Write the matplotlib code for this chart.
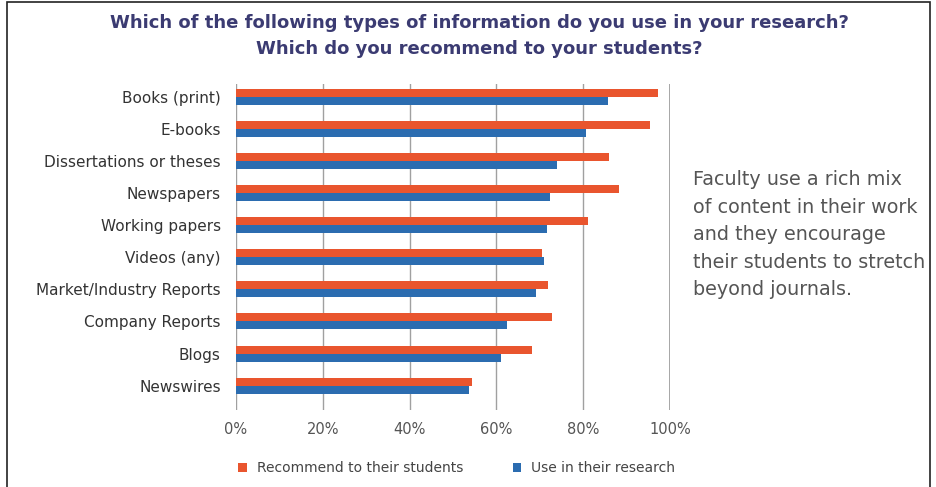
import matplotlib.pyplot as plt
import numpy as np
from matplotlib.patches import Rectangle

categories = ['Books (print)', 'E-books', 'Dissertations or theses', 'Newspapers',
              'Working papers', 'Videos (any)', 'Market/Industry Reports',
              'Company Reports', 'Blogs', 'Newswires']
recommend = [97.3, 95.5, 86.0, 88.2, 81.2, 70.4, 72.0, 72.9, 68.1, 54.4]
use_research = [85.8, 80.6, 74.0, 72.3, 71.7, 71.0, 69.1, 62.4, 61.0, 53.8]
ticks = [0, 20, 40, 60, 80, 100]
tick_labels = ['0%', '20%', '40%', '60%', '80%', '100%']

orange = '#e9552e'
blue = '#2b6cb0'
W, H = 937, 487

fig = plt.figure(figsize=(9.37, 4.87), dpi=100)
ax = fig.add_axes([236 / W, 1 - 410 / H, (670 - 236) / W, (410 - 84) / H])

y = np.arange(len(categories))
h = 0.25
ax.barh(y - h / 2, recommend, height=h, color=orange, zorder=3, label='Recommend to their students')
ax.barh(y + h / 2, use_research, height=h, color=blue, zorder=3, label='Use in their research')

ax.set_xlim(0, 100)
ax.set_ylim(9.76, -0.4)
ax.set_xticks(ticks)
ax.set_xticklabels(tick_labels, fontsize=10.5, color='#555555')
ax.set_yticks(y)
ax.set_yticklabels(categories, fontsize=11, color='#333333')
ax.tick_params(axis='both', length=0)
ax.tick_params(axis='x', pad=9)
ax.tick_params(axis='y', pad=11)
for s in ax.spines.values():
    s.set_visible(False)
for t in ticks:
    ax.axvline(t, color='#a0a0a0' if t < 100 else '#8c8c8c', lw=1.8 if t == 100 else 1.0, zorder=1)

# title
fig.text(479 / W, 1 - 23 / H, 'Which of the following types of information do you use in your research?',
         ha='center', va='center', fontsize=13, fontweight='bold', color='#3b3b72')
fig.text(479 / W, 1 - 49 / H, 'Which do you recommend to your students?',
         ha='center', va='center', fontsize=13, fontweight='bold', color='#3b3b72')

# side note
fig.text(693 / W, 1 - 170 / H,
         'Faculty use a rich mix\nof content in their work\nand they encourage\ntheir students to stretch\nbeyond journals.',
         ha='left', va='top', fontsize=13.8, color='#555555', linespacing=1.57)

# legend
fig.legend(loc='center left', bbox_to_anchor=(226 / W, 1 - 468 / H), ncol=2, frameon=False,
           fontsize=10, handlelength=0.6, handleheight=0.6, columnspacing=3.6, handletextpad=0.7,
           labelcolor='#444444')

# frame
fig.patches.append(Rectangle((7 / W, -0.01), (930 - 7) / W, 1.01 - 2 / H, transform=fig.transFigure,
                             fill=False, edgecolor='#222222', lw=1.2))

fig.savefig('out.png', dpi=100)
